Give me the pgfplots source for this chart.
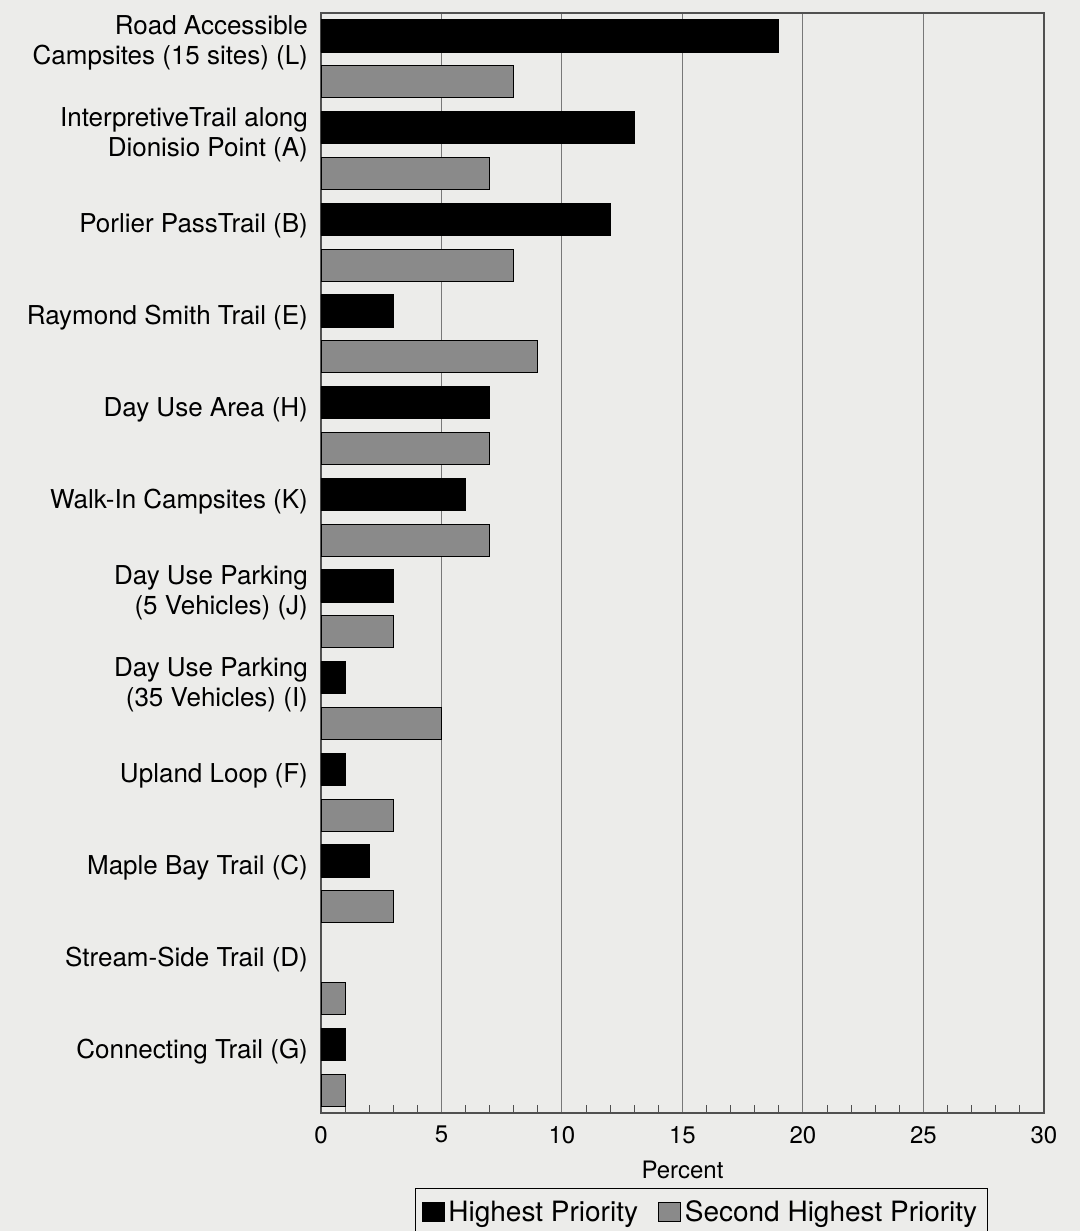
\documentclass[border=0pt]{standalone}
\usepackage{pgfplots}
\pgfplotsset{compat=1.18}
\usepackage{fontspec}
\setmainfont{TeX Gyre Heros}
\definecolor{bg}{RGB}{236,236,234}
\definecolor{barg}{RGB}{138,138,138}
\definecolor{gridc}{RGB}{120,120,120}
\definecolor{axc}{RGB}{80,80,80}
\begin{document}
\begin{tikzpicture}
\path[use as bounding box, fill=bg] (-160.5pt,-59pt) rectangle (379.5pt,556.5pt);
\begin{axis}[
  scale only axis,
  width=361.5pt, height=550pt,
  at={(0pt,0pt)}, anchor=south west,
  xbar, bar width=0.7, bar shift=0pt,
  y dir=reverse,
  ymin=-0.5, ymax=23.5,
  xmin=0, xmax=30,
  xtick={0,5,10,15,20,25,30},
  minor x tick num=4,
  xtick pos=bottom,
  tick align=inside,
  major x tick style={draw=none},
  minor x tick style={draw=axc, line width=0.5pt},
  minor tick length=4pt,
  xmajorgrids,
  major grid style={draw=gridc, line width=0.5pt},
  axis line style={draw=axc, line width=0.6pt},
  axis background/.style={fill=bg},
  /pgf/number format/assume math mode=true,
  xticklabel style={font=\fontsize{12}{14}\selectfont, yshift=-3pt},
  ytick={0.15,2.15,4.15,6.15,8.15,10.15,12.15,14.15,16.15,18.15,20.15,22.15},
  yticklabels={{Road Accessible\\Campsites (15 sites) (L)},
    {InterpretiveTrail along\\Dionisio Point (A)},
    {Porlier PassTrail (B)},
    {Raymond Smith Trail (E)},
    {Day Use Area (H)},
    {Walk-In Campsites (K)},
    {Day Use Parking\\(5 Vehicles) (J)},
    {Day Use Parking\\(35 Vehicles) (I)},
    {Upland Loop (F)},
    {Maple Bay Trail (C)},
    {Stream-Side Trail (D)},
    {Connecting Trail (G)}},
  ytick style={draw=none},
  yticklabel style={font=\fontsize{13}{15}\selectfont, align=right, xshift=-3pt},
  xlabel={Percent},
  xlabel style={font=\fontsize{12}{14}\selectfont, at={(axis description cs:0.5,-0.052)}, anchor=center},
  legend columns=2,
  legend style={at={(axis description cs:0.13,-0.068)}, anchor=north west,
    draw=black, line width=0.6pt, fill=bg, font=\fontsize{14}{16}\selectfont,
    inner xsep=3pt, inner ysep=4pt,
    /tikz/every even column/.append style={column sep=8pt}},
  legend image code/.code={\draw[#1, line width=0.4pt] (0pt,-4.5pt) rectangle (11pt,5pt);},
]
\addplot[draw=black, fill=black] coordinates {
 (19,0) (13,2) (12,4) (3,6) (7,8) (6,10) (3,12) (1,14) (1,16) (2,18) (1,22)};
\addplot[draw=black, fill=barg] coordinates {
 (8,1) (7,3) (8,5) (9,7) (7,9) (7,11) (3,13) (5,15) (3,17) (3,19) (1,21) (1,23)};
\legend{Highest Priority, Second Highest Priority}
\end{axis}
\end{tikzpicture}
\end{document}
